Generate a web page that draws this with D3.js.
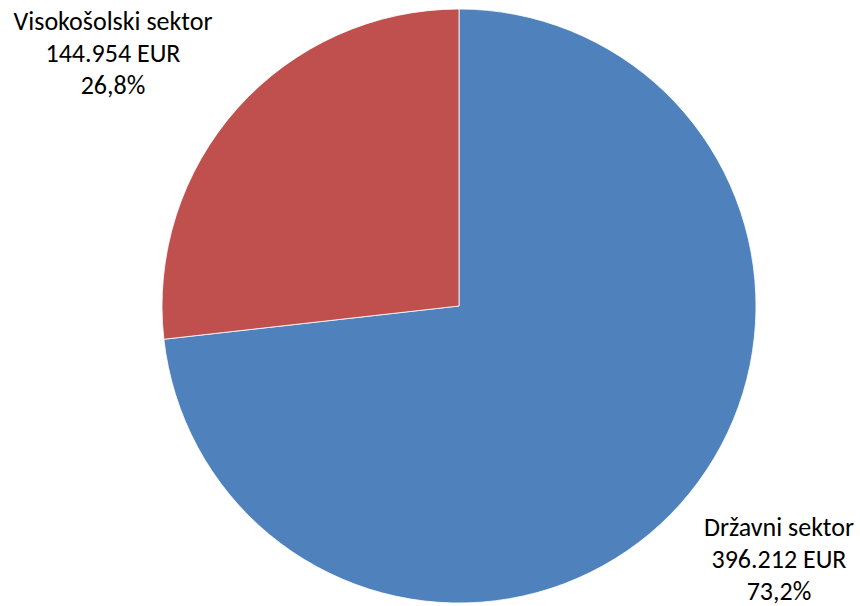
<!DOCTYPE html>
<html><head><meta charset="utf-8">
<script src="https://cdn.jsdelivr.net/npm/d3@7"></script>
<style>html,body{margin:0;padding:0;background:#fff}</style>
</head><body>
<svg id="c" width="860" height="606"></svg>
<script>
const categories = ["Državni sektor", "Visokošolski sektor"];
const values = [396212, 144954];
const valueLabels = ["396.212 EUR", "144.954 EUR"];
const percentLabels = ["73,2%", "26,8%"];
const colors = ["#4F81BD", "#C0504D"];

const svg = d3.select("#c");
const cx = 459, cy = 306, r = 297;
const pie = d3.pie().sort(null).value(d => d);
const arcs = pie(values);
const arc = d3.arc().innerRadius(0).outerRadius(r);
const g = svg.append("g").attr("transform", `translate(${cx},${cy})`);
g.selectAll("path").data(arcs).join("path")
  .attr("d", arc)
  .attr("fill", (d, i) => colors[i])
  .attr("stroke", "#fff").attr("stroke-width", 0.8);

const labelPos = [[779, 536], [113, 30]];
const font = "Carlito, Lato, 'Open Sans', sans-serif";
categories.forEach((c, i) => {
  const t = svg.append("text")
    .attr("x", labelPos[i][0]).attr("y", labelPos[i][1])
    .attr("text-anchor", "middle")
    .attr("font-family", font).attr("font-size", 26)
    .attr("fill", "#000");
  [c, valueLabels[i], percentLabels[i]].forEach((s, k) => {
    t.append("tspan").attr("x", labelPos[i][0]).attr("dy", k === 0 ? 0 : 32).text(s);
  });
});
</script>
</body></html>
